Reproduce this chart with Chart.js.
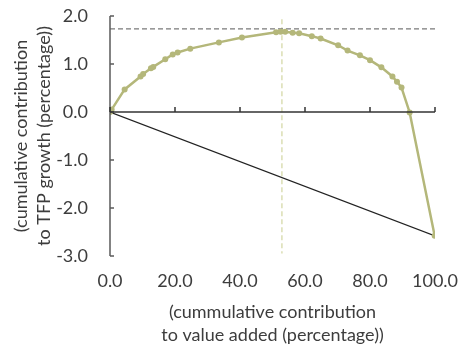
<!DOCTYPE html>
<html>
<head>
<meta charset="utf-8">
<script src="https://cdn.jsdelivr.net/npm/chart.js@4/dist/chart.umd.min.js"></script>
<style>
html,body{margin:0;padding:0;background:#fff;}
#wrap{width:460px;height:347px;position:relative;}
</style>
</head>
<body>
<div id="wrap"><canvas id="c" width="460" height="347"></canvas></div>
<script>
// cumulative contribution to value added (%)
const valueAdded = [0, 0.5, 4.5, 9.4, 10.2, 12.6, 13.3, 17.0, 19.3, 20.8, 24.7, 33.5, 40.6, 51.1, 52.5, 53.9, 56.2, 58.2, 62.1, 64.8, 70.2, 73.1, 76.9, 80.0, 83.5, 86.9, 88.3, 89.7, 92.2, 99.9];
// cumulative contribution to TFP growth (%)
const tfpContribution = [0, 0.05, 0.47, 0.74, 0.79, 0.91, 0.94, 1.10, 1.20, 1.24, 1.32, 1.45, 1.55, 1.66, 1.67, 1.67, 1.65, 1.64, 1.58, 1.53, 1.39, 1.28, 1.18, 1.08, 0.93, 0.74, 0.63, 0.51, -0.01, -2.58];
// straight line from origin to end point
const diagonalX = [0, 100];
const diagonalY = [0, -2.58];
// peak level (horizontal dashed) and its position (vertical dashed)
const peakLevelX = [0, 100];
const peakLevelY = [1.73, 1.73];
const peakPosX = [52.9, 52.9];
const peakPosY = [1.93, -2.95];
const xTicks = [0, 20, 40, 60, 80, 100];
const yTicks = [-3, -2, -1, 0, 1, 2];

const toPts = (xs, ys) => xs.map((x, i) => ({x: x, y: ys[i]}));
const FONT = "Lato, 'Open Sans', sans-serif";
const TXT = '#3d3d3d';

const axesPlugin = {
  id: 'axesPlugin',
  afterDatasetsDraw(chart) {
    const {ctx, chartArea, scales} = chart;
    const xs = scales.x, ys = scales.y;
    ctx.save();
    // y axis
    ctx.strokeStyle = '#5a5a5a';
    ctx.lineWidth = 1.5;
    ctx.beginPath();
    ctx.moveTo(chartArea.left, ys.getPixelForValue(2));
    ctx.lineTo(chartArea.left, ys.getPixelForValue(-3));
    ctx.stroke();
    yTicks.forEach(v => {
      const py = ys.getPixelForValue(v);
      ctx.beginPath();
      ctx.moveTo(chartArea.left, py);
      ctx.lineTo(chartArea.left + 4, py);
      ctx.stroke();
    });
    // x axis at y = 0
    const y0 = ys.getPixelForValue(0);
    ctx.strokeStyle = '#333333';
    ctx.beginPath();
    ctx.moveTo(xs.getPixelForValue(0), y0);
    ctx.lineTo(xs.getPixelForValue(100), y0);
    ctx.stroke();
    xTicks.forEach(v => {
      const px = xs.getPixelForValue(v);
      ctx.beginPath();
      ctx.moveTo(px, y0);
      ctx.lineTo(px, y0 - 5);
      ctx.stroke();
    });
    ctx.restore();
  }
};

new Chart(document.getElementById('c'), {
  type: 'scatter',
  data: {
    datasets: [
      {
        label: 'TFP',
        data: toPts(valueAdded, tfpContribution),
        showLine: true,
        borderColor: '#b4b77a',
        backgroundColor: '#b4b77a',
        borderWidth: 2.5,
        pointRadius: 3,
        pointBorderWidth: 0,
        tension: 0,
        order: 0
      },
      {
        label: 'diagonal',
        data: toPts(diagonalX, diagonalY),
        showLine: true,
        borderColor: '#222222',
        borderWidth: 1.2,
        pointRadius: 0,
        order: 1
      },
      {
        label: 'peak level',
        data: toPts(peakLevelX, peakLevelY),
        showLine: true,
        borderColor: '#7a7a7a',
        borderWidth: 1.3,
        borderDash: [5, 3],
        pointRadius: 0,
        order: 2
      },
      {
        label: 'peak position',
        data: toPts(peakPosX, peakPosY),
        showLine: true,
        borderColor: '#d5d9a8',
        borderWidth: 1.3,
        borderDash: [5, 3],
        pointRadius: 0,
        order: 3
      }
    ]
  },
  options: {
    responsive: false,
    animation: false,
    events: [],
    layout: {padding: {left: 0, top: 16, right: 25, bottom: 0}},
    plugins: {legend: {display: false}, tooltip: {enabled: false}},
    scales: {
      x: {
        type: 'linear',
        min: 0, max: 100,
        afterBuildTicks: s => { s.ticks = xTicks.map(v => ({value: v})); },
        afterFit: s => { s.height = 91; s.paddingLeft = 0; s.paddingRight = 0; },
        grid: {display: false, drawTicks: false},
        border: {display: false},
        ticks: {
          padding: 14,
          color: TXT,
          font: {family: FONT, size: 18},
          maxRotation: 0,
          callback: v => Number(v).toFixed(1)
        },
        title: {
          display: true,
          text: ['(cummulative contribution', 'to value added (percentage))'],
          color: TXT,
          font: {family: FONT, size: 18, lineHeight: 1.3},
          padding: {top: 0, bottom: 0}
        }
      },
      y: {
        type: 'linear',
        min: -3, max: 2,
        afterBuildTicks: s => { s.ticks = yTicks.map(v => ({value: v})); },
        afterFit: s => { s.width = 110; s.paddingTop = 0; s.paddingBottom = 0; },
        grid: {display: false},
        border: {display: false},
        ticks: {
          padding: 14,
          color: TXT,
          font: {family: FONT, size: 18},
          callback: v => Number(v).toFixed(1)
        },
        title: {
          display: true,
          text: ['(cumulative contribution', 'to TFP growth (percentage))'],
          color: TXT,
          font: {family: FONT, size: 18, lineHeight: 1.25},
          padding: {top: 10, bottom: 0}
        }
      }
    }
  },
  plugins: [axesPlugin]
});
</script>
</body>
</html>
